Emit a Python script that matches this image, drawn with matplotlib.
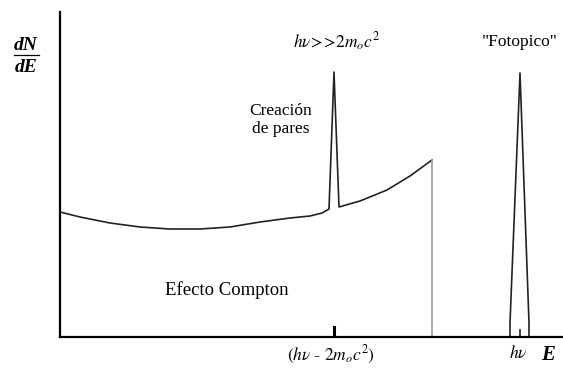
# gamma-ray energy spectrum sketch: Compton continuum, pair peak and photopeak

import matplotlib.pyplot as plt

# Compton continuum (arbitrary units), with the pair-creation spike in the middle
compton_E = [0, 20, 50, 80, 110, 140, 170, 200, 230, 250, 262, 269, 274, 279, 300, 327, 350, 372]
compton_N = [125, 120, 114, 110, 108, 108, 110, 115, 119, 121, 124, 128, 265, 130, 136, 147, 161, 177]

# photopeak at E = hv
photo_E = [450, 450, 460, 469, 469]
photo_N = [0, 14, 264, 14, 0]

compton_edge = 372
pair_E = 274
hv_E = 460

xmax, ymax = 503, 325

fig = plt.figure(figsize=(5.63, 3.71), dpi=100)
ax = fig.add_axes([60 / 563, 34 / 371, 503 / 563, 325 / 371])
ax.set_xlim(0, xmax)
ax.set_ylim(0, ymax)
for s in ["top", "right"]:
    ax.spines[s].set_visible(False)
for s in ["left", "bottom"]:
    ax.spines[s].set_linewidth(1.6)
ax.set_xticks([])
ax.set_yticks([])

ax.plot(compton_E, compton_N, color="#222222", lw=1.2)
ax.plot([compton_edge, compton_edge], [0, compton_N[-1]], color="#999999", lw=1.2)
ax.plot(photo_E, photo_N, color="#222222", lw=1.2)
ax.plot([hv_E, hv_E], [0, 7], color="#222222", lw=1.2)
ax.plot([pair_E, pair_E], [0, 10], color="black", lw=2.2)

serif = "Liberation Serif"
fs = 12.5
bold_it = dict(family=serif, fontweight="bold", style="italic", ha="center", va="center")
ax.text(-34, 292, "dN", fontsize=14, **bold_it)
ax.text(-34, 269, "dE", fontsize=14, **bold_it)
ax.plot([-46, -21], [282, 282], color="black", lw=0.9, clip_on=False)

ax.text(277, 295, r"$h\nu\!>\!\!>\!2m_oc^2$", fontsize=fs, ha="center", va="center",
        family=serif, math_fontfamily="stix")
ax.text(221, 217, "Creación\nde pares", fontsize=fs, ha="center", va="center",
        family=serif, linespacing=1.1)
ax.text(460, 295, "\"Fotopico\"", fontsize=fs, ha="center", va="center", family=serif)
ax.text(167, 47, "Efecto Compton", fontsize=13.5, ha="center", va="center", family=serif)
ax.text(271, -18, r"$(h\nu$ - $2m_oc^2)$", fontsize=fs, ha="center", va="center",
        family=serif, math_fontfamily="stix")
ax.text(458, -16, r"$h\nu$", fontsize=fs, ha="center", va="center", math_fontfamily="stix")
ax.text(488, -18, "E", fontsize=15, **bold_it)

fig.savefig("out.png", dpi=100)
